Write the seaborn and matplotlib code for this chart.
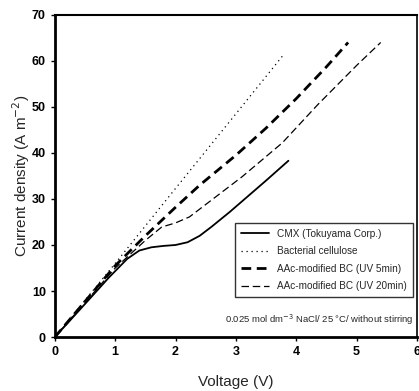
import pandas as pd
import matplotlib
matplotlib.use("Agg")
import matplotlib.pyplot as plt
import seaborn as sns

# data
cmx_v = [0, 0.5, 0.9, 1.2, 1.4, 1.6, 1.8, 2.0, 2.2, 2.4, 2.6, 2.9, 3.2, 3.5, 3.87]
cmx_i = [0, 7.2, 13.0, 17.0, 18.8, 19.5, 19.8, 20.0, 20.6, 22.0, 24.0, 27.2, 30.6, 34.0, 38.3]

bc_v = [0, 1.0, 2.0, 3.0, 3.8]
bc_i = [0, 16.0, 32.3, 48.5, 61.5]

uv5_v = [0, 1.0, 1.5, 2.0, 2.4, 3.0, 3.5, 4.0, 4.5, 4.86]
uv5_i = [0, 15.5, 22.0, 28.2, 33.0, 39.5, 45.4, 51.8, 58.7, 64.0]

uv20_v = [0, 1.0, 1.5, 1.77, 2.0, 2.23, 2.64, 3.1, 3.77, 4.35, 5.0, 5.4]
uv20_i = [0, 15.0, 21.0, 23.9, 24.8, 26.1, 30.2, 34.8, 42.2, 50.4, 59.0, 64.0]

labels = ["CMX (Tokuyama Corp.)", "Bacterial cellulose",
          "AAc-modified BC (UV 5min)", "AAc-modified BC (UV 20min)"]

sns.set_style("ticks")
plt.rcParams['font.family'] = ['Liberation Sans Narrow', 'Liberation Sans', 'DejaVu Sans']

fig = plt.figure(figsize=(4.19, 3.91), dpi=100)
ax = fig.add_axes([0.131, 0.138, 0.864, 0.824])

sns.lineplot(x=cmx_v, y=cmx_i, ax=ax, color='black', lw=1.3, label=labels[0], sort=False)
sns.lineplot(x=bc_v, y=bc_i, ax=ax, color='black', lw=0.9, linestyle=(0, (1, 3)), label=labels[1], sort=False)
sns.lineplot(x=uv5_v, y=uv5_i, ax=ax, color='black', lw=2.0, linestyle=(0, (3.5, 2)), label=labels[2], sort=False)
sns.lineplot(x=uv20_v, y=uv20_i, ax=ax, color='black', lw=0.9, linestyle=(0, (6, 3)), label=labels[3], sort=False)

ax.set_xlim(0, 6)
ax.set_ylim(0, 70)
ax.set_xticks(range(0, 7))
ax.set_yticks(range(0, 71, 10))
for s in ax.spines.values():
    s.set_visible(True)
    s.set_color('black')
ax.spines['left'].set_linewidth(2)
ax.spines['bottom'].set_linewidth(2)
ax.spines['top'].set_linewidth(1.5)
ax.spines['right'].set_linewidth(1.2)
ax.tick_params(direction='out', length=3, width=1, labelsize=9, colors='black')
for t in ax.get_xticklabels() + ax.get_yticklabels():
    t.set_fontweight('bold')

ax.set_xlabel("Voltage (V)", fontsize=11, labelpad=12)
ax.set_ylabel("Current density (A m$^{-2}$)", fontsize=11, labelpad=0)

leg = ax.legend(loc='lower right', bbox_to_anchor=(0.988, 0.124), borderaxespad=0,
                fontsize=7.2, frameon=True, fancybox=False, handlelength=2.8,
                borderpad=0.6, labelspacing=0.75, handletextpad=0.8)
leg.get_frame().set_edgecolor('black')
leg.get_frame().set_linewidth(1)

ax.text(5.95, 3.7, "0.025 mol dm$^{-3}$ NaCl/ 25 °C/ without stirring",
        ha='right', va='center', fontsize=6.8)

fig.savefig("out.png", dpi=100)
